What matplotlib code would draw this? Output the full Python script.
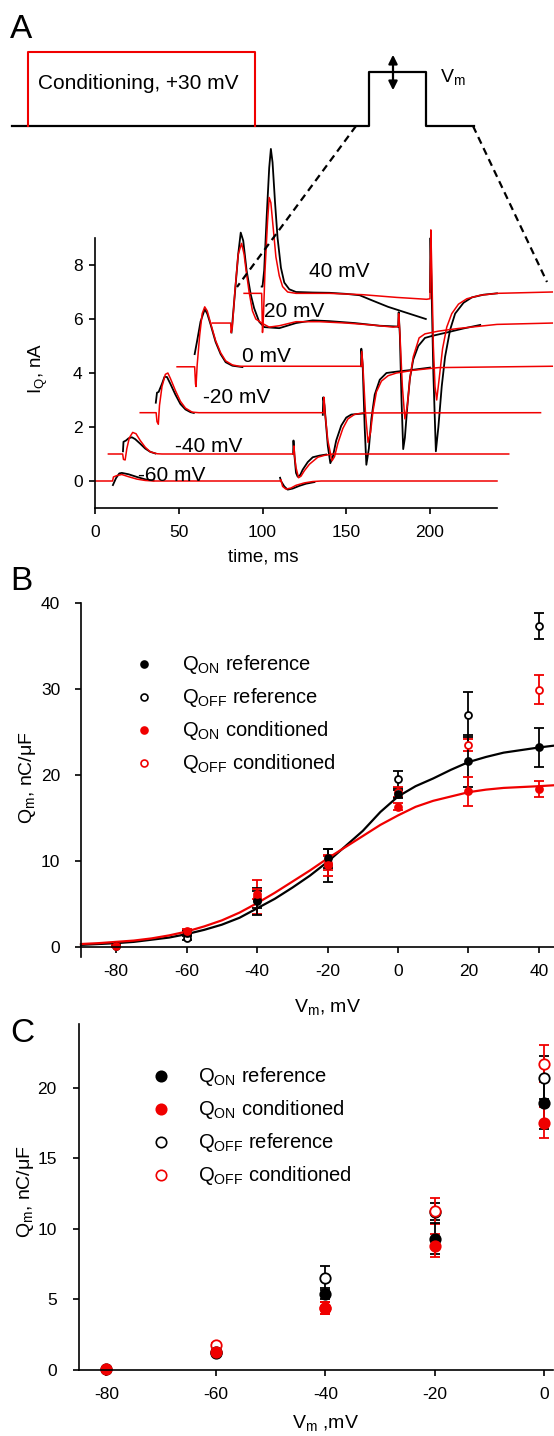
import numpy as np
import matplotlib
matplotlib.use('Agg')
import matplotlib.pyplot as plt

plt.rcParams['font.family'] = ['Liberation Sans', 'DejaVu Sans']
plt.rcParams['mathtext.fontset'] = 'custom'
plt.rcParams['mathtext.rm'] = 'Liberation Sans'
plt.rcParams['mathtext.it'] = 'Liberation Sans:italic'
plt.rcParams['mathtext.bf'] = 'Liberation Sans:bold'
plt.rcParams['axes.unicode_minus'] = False

RED = '#f00000'
W, H = 554, 1436

#### panel A : charge movement currents, (time ms, I nA), black = reference, red = conditioned
ref_on_m60 = [(10.7, -0.15), (12.5, 0.1), (14.5, 0.28), (16, 0.3), (20, 0.25), (25, 0.15), (30, 0.06), (35, 0.02)]
ref_off_m60 = [(110.5, 0.12), (111, 0.0), (113, -0.2), (115, -0.32), (118, -0.28), (122, -0.18), (126, -0.1), (131, -0.04)]
cond_m60 = [(0, 0), (10.5, 0), (11, 0.15), (13, 0.2), (16, 0.24), (20, 0.16), (25, 0.07), (30, 0.02), (35, 0),
            (110.5, 0), (111, 0.05), (112, -0.2), (114, -0.3), (117, -0.26), (120, -0.16), (125, -0.07),
            (130, -0.02), (135, 0), (240, 0)]

ref_on_m40 = [(16.7, 1.1), (17, 1.45), (18.5, 1.5), (20, 1.58), (22, 1.62), (24, 1.55), (27, 1.38), (30, 1.2),
              (33, 1.08), (36, 1.02)]
ref_off_m40 = [(118.3, 1.0), (118.5, 1.5), (119, 1.0), (120, 0.3), (121, 0.16), (122.5, 0.22), (124, 0.42),
               (127, 0.7), (130, 0.88), (134, 0.94), (138, 0.98)]
cond_m40 = [(8, 1.0), (16.5, 1.0), (17, 0.8), (18, 0.78), (19, 1.2), (20.5, 1.6), (22.5, 1.8), (24.5, 1.75),
            (27, 1.5), (30, 1.25), (33, 1.08), (37, 1.01), (40, 1.0), (118.5, 1.0), (118.8, 1.3), (119.2, 0.9),
            (120, 0.5), (121.5, 0.12), (123, 0.18), (125, 0.38), (128, 0.62), (133, 0.88), (137, 0.95),
            (142, 1.0), (247, 1.0)]

ref_on_m20 = [(36.3, 2.9), (37, 3.27), (38, 3.3), (40, 3.6), (41.5, 3.86), (43, 3.85), (45, 3.6), (48, 3.2),
              (51, 2.85), (54, 2.65), (57, 2.55), (59, 2.52)]
ref_off_m20 = [(136, 2.45), (136.3, 3.1), (137, 2.8), (139, 1.3), (140.5, 0.66), (142, 0.9), (144, 1.5),
               (147, 2.05), (150, 2.35), (153, 2.46), (160, 2.5)]
cond_m20 = [(27, 2.53), (36.5, 2.53), (37, 2.2), (37.8, 2.1), (38.5, 2.8), (40, 3.5), (42, 3.95), (43.5, 4.0),
            (45, 3.8), (48, 3.35), (51, 2.95), (54, 2.7), (58, 2.55), (62, 2.53), (136.5, 2.53), (136.8, 3.1),
            (137.2, 2.6), (139, 1.5), (141.5, 0.75), (143, 0.9), (145, 1.4), (148, 1.95), (151, 2.3),
            (155, 2.47), (160, 2.52), (266, 2.53)]

ref_on_0 = [(59.5, 4.7), (61, 5.2), (63, 5.9), (65.5, 6.36), (67, 6.2), (69, 5.8), (72, 5.15), (75, 4.7),
            (78, 4.4), (82, 4.27), (88, 4.22)]
ref_off_0 = [(158.8, 4.25), (159, 4.9), (159.8, 4.3), (161, 2.0), (162, 0.6), (163.5, 1.2), (165, 2.3),
             (167, 3.2), (170, 3.75), (174, 4.0), (180, 4.05), (190, 4.12), (200, 4.2)]
cond_0 = [(49, 4.23), (59.5, 4.23), (60, 3.6), (60.3, 3.5), (61, 4.3), (62.5, 5.4), (64, 6.2), (65.5, 6.45),
          (67, 6.3), (69, 5.85), (72, 5.2), (75, 4.75), (78, 4.45), (82, 4.3), (86, 4.25), (159, 4.25),
          (159.3, 4.8), (160, 4.2), (161.5, 2.5), (163, 1.43), (164.5, 1.8), (166, 2.6), (168, 3.3),
          (171, 3.7), (175, 3.9), (180, 4.0), (190, 4.1), (205, 4.2), (273, 4.25)]

ref_on_20 = [(81.5, 5.5), (84, 7.3), (85.5, 8.4), (87, 9.2), (88.5, 8.9), (90.5, 7.8), (93, 6.9), (95, 6.4),
             (98, 5.9), (101, 5.7), (110, 5.66), (120, 5.85), (130, 5.95), (140, 5.92), (155, 5.85),
             (170, 5.75), (181, 5.72)]
ref_off_20 = [(181, 5.72), (181.3, 6.25), (182, 5.4), (183, 3.0), (184, 1.18), (185, 1.6), (186.5, 2.8),
              (188, 3.8), (190, 4.5), (193, 5.0), (197, 5.3), (201, 5.37), (210, 5.5), (220, 5.65), (230, 5.78)]
cond_20 = [(70, 5.85), (81, 5.85), (81.3, 5.5), (82, 5.7), (83.5, 7.0), (85.5, 8.4), (87.5, 8.8), (89, 8.4),
           (90, 7.9), (92, 7.0), (94, 6.3), (96, 6.0), (99.5, 5.85), (104, 5.7), (110, 5.75), (120, 5.9),
           (134, 5.9), (150, 5.85), (165, 5.78), (178, 5.7), (181, 5.72), (181.3, 6.2), (182, 5.5),
           (183.5, 3.5), (185, 2.3), (186.5, 2.8), (188, 3.8), (190, 4.6), (193.5, 5.3), (197, 5.45),
           (205, 5.55), (217, 5.65), (240, 5.8), (273, 5.85)]

ref_on_40 = [(99.5, 7.2), (100, 7.2), (101, 7.8), (102.5, 9.8), (104, 11.6), (105, 12.3), (106, 11.8),
             (107.5, 10.3), (109, 9.0), (111, 7.9), (113, 7.35), (116, 7.1), (120, 7.0), (130, 6.98),
             (140, 6.97), (150, 6.93), (158, 6.88), (165, 6.7), (175, 6.45), (185, 6.25), (197.5, 6.0)]
ref_off_40 = [(200, 7.0), (200.3, 9.0), (200.8, 7.5), (202, 4.0), (203.5, 1.1), (205, 2.0), (207, 3.5),
              (209, 4.6), (212, 5.6), (215, 6.2), (220, 6.6), (225, 6.8), (232, 6.9), (240, 6.95)]
cond_40 = [(89, 6.95), (99.5, 6.95), (100, 5.5), (100.5, 6.0), (101.5, 7.8), (103, 9.6), (104, 10.5),
           (105, 10.3), (106.5, 9.3), (108, 8.3), (110, 7.6), (112, 7.2), (115, 7.0), (120, 6.95), (140, 6.95),
           (160, 6.9), (180, 6.8), (198, 6.73), (200, 6.75), (200.5, 9.3), (201, 8.0), (202, 5.0), (203, 3.5),
           (204, 3.0), (205.5, 3.8), (207.5, 4.9), (210, 5.7), (213, 6.2), (217, 6.55), (222, 6.75),
           (230, 6.88), (240, 6.95), (273, 7.0)]

trace_labels = ['-60 mV', '-40 mV', '-20 mV', '0 mV', '20 mV', '40 mV']
label_t = [25.6, 47.6, 64.3, 87.5, 100.6, 128]
label_i = [0.0, 1.07, 2.9, 4.41, 6.07, 7.57]

#### panel B : Q-V, mean +- sem
vB = [-80, -60, -40, -20, 0, 20, 40]
qon_ref_B = [0.1, 1.6, 5.3, 10.3, 17.8, 21.6, 23.2]
qon_ref_B_err = [0.1, 0.3, 1.6, 1.1, 0.5, 3.0, 2.3]
qon_cond_B = [0.1, 1.9, 6.2, 9.5, 16.3, 18.1, 18.4]
qon_cond_B_err = [0.1, 0.2, 0.6, 1.2, 0.4, 1.65, 0.9]
vB_off = [-60, -40, -20, 0, 20, 40]
qoff_ref_B = [1.1, 5.5, 9.5, 19.5, 27.0, 37.3]
qoff_ref_B_err = [0.3, 1.0, 1.9, 1.0, 2.6, 1.5]
qoff_cond_B = [1.8, 5.8, 9.8, 18.0, 23.5, 29.9]
qoff_cond_B_err = [0.2, 2.0, 0.8, 0.6, 0.7, 1.7]

fit_v = [-90, -85, -80, -75, -70, -65, -60, -55, -50, -45, -40, -35, -30, -25, -20, -15, -10, -5, 0, 5, 10,
         15, 20, 25, 30, 35, 40, 44]
fit_ref = [0.25, 0.35, 0.45, 0.6, 0.85, 1.1, 1.5, 2.0, 2.6, 3.4, 4.5, 5.6, 6.9, 8.3, 9.9, 11.7, 13.5, 15.7,
           17.5, 18.7, 19.6, 20.6, 21.5, 22.1, 22.6, 22.9, 23.2, 23.4]
fit_cond = [0.35, 0.45, 0.6, 0.75, 1.0, 1.35, 1.8, 2.4, 3.1, 4.0, 5.1, 6.3, 7.6, 8.9, 10.3, 11.6, 12.9, 14.2,
            15.3, 16.3, 17.0, 17.5, 18.0, 18.3, 18.5, 18.6, 18.7, 18.8]

#### panel C
vC = [-80, -60, -40, -20, 0]
qon_ref_C = [0.1, 1.3, 5.4, 9.3, 18.9]
qon_ref_C_err = [0.0, 0.15, 0.4, 1.1, 1.8]
qon_cond_C = [0.1, 1.3, 4.4, 8.8, 17.5]
qon_cond_C_err = [0.0, 0.15, 0.45, 0.8, 1.1]
vC_off = [-60, -40, -20, 0]
qoff_ref_C = [1.2, 6.5, 11.2, 20.7]
qoff_ref_C_err = [0.15, 0.85, 0.6, 1.5]
qoff_cond_C = [1.75, 4.4, 11.25, 21.7]
qoff_cond_C_err = [0.15, 0.4, 0.9, 1.3]

#### protocol sketch (figure pixels)
prot_x = [12, 369, 369, 426, 426, 474]
prot_y = [126, 126, 72, 72, 126, 126]
cond_x = [28, 28, 255, 255]
cond_y = [126, 52, 52, 126]


def box(l, t, r, b):
    return [l / W, 1 - b / H, (r - l) / W, (b - t) / H]


def style(ax, ypad):
    for s in ['top', 'right']:
        ax.spines[s].set_visible(False)
    for s in ['left', 'bottom']:
        ax.spines[s].set_linewidth(1.2)
    ax.tick_params(direction='out', length=4, width=1.2, labelsize=12.5)
    ax.tick_params(axis='x', pad=8)
    ax.tick_params(axis='y', pad=ypad)


fig = plt.figure(figsize=(W / 100, H / 100), dpi=100)

# ---- A
axA = fig.add_axes(box(95, 238, 497, 508))
style(axA, 5)
axA.set_xlim(0, 240)
axA.set_ylim(-1, 9)
axA.set_xticks([0, 50, 100, 150, 200])
axA.set_yticks([0, 2, 4, 6, 8])
refs = [ref_on_m60, ref_off_m60, ref_on_m40, ref_off_m40, ref_on_m20, ref_off_m20,
        ref_on_0, ref_off_0, ref_on_20, ref_off_20, ref_on_40, ref_off_40]
conds = [cond_m60, cond_m40, cond_m20, cond_0, cond_20, cond_40]
for seg in refs:
    t, i = np.array(seg).T
    axA.plot(t, i, color='black', lw=1.3, clip_on=False)
for seg in conds:
    t, i = np.array(seg).T
    axA.plot(t, i, color=RED, lw=1.1, clip_on=False)
for lab, t, i in zip(trace_labels, label_t, label_i):
    axA.text(t, i, lab, fontsize=15, va='baseline', ha='left')

# ---- B
axB = fig.add_axes(box(81, 603, 554, 957))
style(axB, 11)
axB.spines['bottom'].set_position(('data', 0))
axB.set_xlim(-90, 44.3)
axB.set_ylim(-1.16, 40)
axB.set_xticks([-80, -60, -40, -20, 0, 20, 40])
axB.set_yticks([0, 10, 20, 30, 40])
axB.plot(fit_v, fit_ref, color='black', lw=1.6, clip_on=False)
axB.plot(fit_v, fit_cond, color=RED, lw=1.6, clip_on=False)
eb = dict(ms=5, capsize=3.6, elinewidth=1.3, capthick=1.3, mew=1.3, clip_on=False)
axB.errorbar(vB_off, qoff_ref_B, qoff_ref_B_err, fmt='o', color='black', mfc='white', **eb)
axB.errorbar(vB_off, qoff_cond_B, qoff_cond_B_err, fmt='o', color=RED, mfc='white', **eb)
axB.errorbar(vB, qon_ref_B, qon_ref_B_err, fmt='o', color='black', **eb)
axB.errorbar(vB, qon_cond_B, qon_cond_B_err, fmt='o', color=RED, **eb)

# ---- C
axC = fig.add_axes(box(79, 1024, 553, 1370))
style(axC, 12)
axC.set_xlim(-85, 1.6)
axC.set_ylim(0, 24.5)
axC.set_xticks([-80, -60, -40, -20, 0])
axC.set_yticks([0, 5, 10, 15, 20])
ebC = dict(ms=7.5, capsize=3.6, elinewidth=1.3, capthick=1.3, mew=1.3, clip_on=False)
axC.errorbar(vC_off, qoff_ref_C, qoff_ref_C_err, fmt='o', color='black', mfc='white', **ebC)
axC.errorbar(vC_off, qoff_cond_C, qoff_cond_C_err, fmt='o', color=RED, mfc='white', **ebC)
axC.errorbar(vC, qon_ref_C, qon_ref_C_err, fmt='o', color='black', **ebC)
axC.errorbar(vC, qon_cond_C, qon_cond_C_err, fmt='o', color=RED, **ebC)

# ---- overlay in pixel units: protocol, zoom lines, labels, legends
ax0 = fig.add_axes([0, 0, 1, 1], zorder=5)
ax0.set_xlim(0, W)
ax0.set_ylim(H, 0)
ax0.axis('off')
ax0.patch.set_visible(False)

ax0.plot(prot_x, prot_y, color='black', lw=1.6)
ax0.plot(cond_x, cond_y, color=RED, lw=1.5)
ax0.annotate('', xy=(393, 52), xytext=(393, 93),
             arrowprops=dict(arrowstyle='<|-|>', lw=1.6, color='black', mutation_scale=13))
ax0.plot([356, 237], [126, 287], color='black', lw=1.6, dashes=(3.3, 2.2))
ax0.plot([473, 547], [126, 282], color='black', lw=1.6, dashes=(3.3, 2.2))
ax0.text(38, 89, 'Conditioning, +30 mV', fontsize=15, va='baseline')
ax0.text(440, 82, r'V$_\mathrm{m}$', fontsize=14, va='baseline')

for lab, y in [('A', 38), ('B', 590), ('C', 1042)]:
    ax0.text(10, y, lab, fontsize=24, va='baseline')

ax0.text(263, 557, 'time, ms', fontsize=13.5, ha='center', va='center')
ax0.text(38, 368, r'I$_\mathrm{Q}$, nA', fontsize=13.5, ha='center', va='center', rotation=90)
ax0.text(328, 1012, r'V$_\mathrm{m}$, mV', fontsize=14, ha='center', va='baseline')
ax0.text(27, 778, r'Q$_\mathrm{m}$, nC/μF', fontsize=14, ha='center', va='center', rotation=90)
ax0.text(326, 1428, r'V$_\mathrm{m}$ ,mV', fontsize=14, ha='center', va='baseline')
ax0.text(25, 1192, r'Q$_\mathrm{m}$, nC/μF', fontsize=14, ha='center', va='center', rotation=90)

legB = [(r'Q$_\mathrm{ON}$ reference', 'black', True),
        (r'Q$_\mathrm{OFF}$ reference', 'black', False),
        (r'Q$_\mathrm{ON}$ conditioned', RED, True),
        (r'Q$_\mathrm{OFF}$ conditioned', RED, False)]
for k, (lab, c, filled) in enumerate(legB):
    y = 664 + 33 * k
    ax0.plot([144], [y], 'o', ms=5, color=c, mfc=c if filled else 'white', mew=1.2)
    ax0.text(182, y + 6, lab, fontsize=14.5, va='baseline')

legC = [(r'Q$_\mathrm{ON}$ reference', 'black', True),
        (r'Q$_\mathrm{ON}$ conditioned', RED, True),
        (r'Q$_\mathrm{OFF}$ reference', 'black', False),
        (r'Q$_\mathrm{OFF}$ conditioned', RED, False)]
for k, (lab, c, filled) in enumerate(legC):
    y = 1076 + 33 * k
    ax0.plot([161], [y], 'o', ms=7.5, color=c, mfc=c if filled else 'white', mew=1.2)
    ax0.text(198, y + 6, lab, fontsize=14.5, va='baseline')

fig.savefig('out.png', dpi=100)
